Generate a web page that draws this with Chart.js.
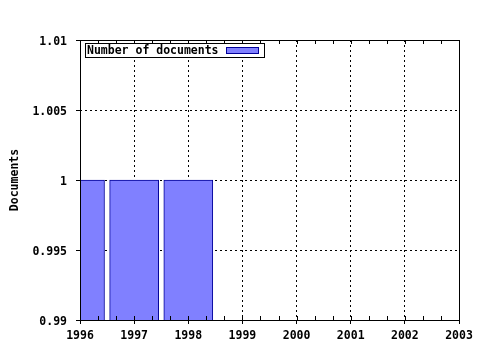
<!DOCTYPE html>
<html>
<head>
<meta charset="utf-8">
<script src="https://cdn.jsdelivr.net/npm/chart.js@4/dist/chart.umd.min.js"></script>
<style>
  html, body { margin: 0; padding: 0; background: #fff; }
  #wrap { width: 480px; height: 350px; }
</style>
</head>
<body>
<div id="wrap"><canvas id="myChart" width="480" height="350"></canvas></div>
<script>
const years = [1996, 1997, 1998];
const docCounts = [1, 1, 1];
const seriesLabel = 'Number of documents';
const yTitle = 'Documents';

const FONT_SIZE = 11.5;
const FONT = 'bold ' + FONT_SIZE + 'px "DejaVu Sans Mono"';
const tickFont = { family: 'DejaVu Sans Mono', size: FONT_SIZE, weight: 'bold' };

// frame, minor ticks and the boxed legend inside the plot
const extras = {
    id: 'extras',
    afterDraw(chart) {
        const ctx = chart.ctx;
        const a = chart.chartArea;
        const xs = chart.scales.x;
        ctx.save();
        ctx.strokeStyle = '#000';
        ctx.lineWidth = 1;
        ctx.setLineDash([]);
        ctx.beginPath();
        for (let v = xs.min; v <= xs.max + 1e-6; v += 1 / 3) {
            const px = Math.round(xs.getPixelForValue(v)) + 0.5;
            ctx.moveTo(px, a.top); ctx.lineTo(px, a.top + 4);
            ctx.moveTo(px, a.bottom); ctx.lineTo(px, a.bottom - 4);
        }
        ctx.stroke();
        ctx.strokeRect(Math.round(a.left) + 0.5, Math.round(a.top) + 0.5,
            Math.round(a.right - a.left), Math.round(a.bottom - a.top));

        // legend
        const lx = a.left + 5, ly = a.top + 3;
        ctx.font = FONT;
        const tw = ctx.measureText(seriesLabel).width;
        const w = tw + 47, h = 14;
        ctx.fillStyle = '#fff';
        ctx.fillRect(lx, ly, w, h);
        ctx.strokeRect(Math.round(lx) + 0.5, Math.round(ly) + 0.5, Math.round(w), h);
        ctx.fillStyle = '#000';
        ctx.textBaseline = 'middle';
        ctx.fillText(seriesLabel, lx + 2, ly + h / 2 + 1);
        const ds = chart.data.datasets[0];
        ctx.fillStyle = ds.backgroundColor;
        ctx.fillRect(Math.round(lx + w - 38), ly + 4, 33, 7);
        ctx.strokeStyle = ds.borderColor;
        ctx.strokeRect(Math.round(lx + w - 38) + 0.5, ly + 4.5, 32, 6);
        ctx.restore();
    }
};

const ctx = document.getElementById('myChart').getContext('2d');
new Chart(ctx, {
    type: 'bar',
    data: {
        datasets: [{
            label: seriesLabel,
            data: years.map((y, i) => ({ x: y, y: docCounts[i] })),
            backgroundColor: '#8080ff',
            borderColor: '#000099',
            borderWidth: 1,
            barThickness: 49,
            clip: 0
        }]
    },
    options: {
        responsive: false,
        animation: false,
        layout: { padding: { top: 40, right: 21, left: 0, bottom: 0 } },
        plugins: {
            legend: { display: false },
            tooltip: { enabled: false }
        },
        scales: {
            x: {
                type: 'linear',
                min: 1996,
                max: 2003,
                offset: false,
                afterFit: s => { s.height = 30; },
                ticks: {
                    stepSize: 1,
                    padding: 5,
                    color: '#000',
                    font: tickFont,
                    callback: v => String(v)
                },
                grid: { offset: false, color: '#000', tickLength: 4, tickColor: '#000' },
                border: { display: false, dash: [2, 3] }
            },
            y: {
                min: 0.99,
                max: 1.01,
                afterFit: s => { s.width = 80; },
                ticks: {
                    stepSize: 0.005,
                    padding: 9,
                    labelOffset: 2,
                    color: '#000',
                    font: tickFont,
                    callback: v => String(+v.toFixed(3))
                },
                title: {
                    display: true,
                    text: yTitle,
                    color: '#000',
                    font: tickFont,
                    padding: { top: 8, bottom: 0 }
                },
                grid: { color: '#000', tickLength: 4, tickColor: '#000' },
                border: { display: false, dash: [2, 3] }
            }
        }
    },
    plugins: [extras]
});
</script>
</body>
</html>
